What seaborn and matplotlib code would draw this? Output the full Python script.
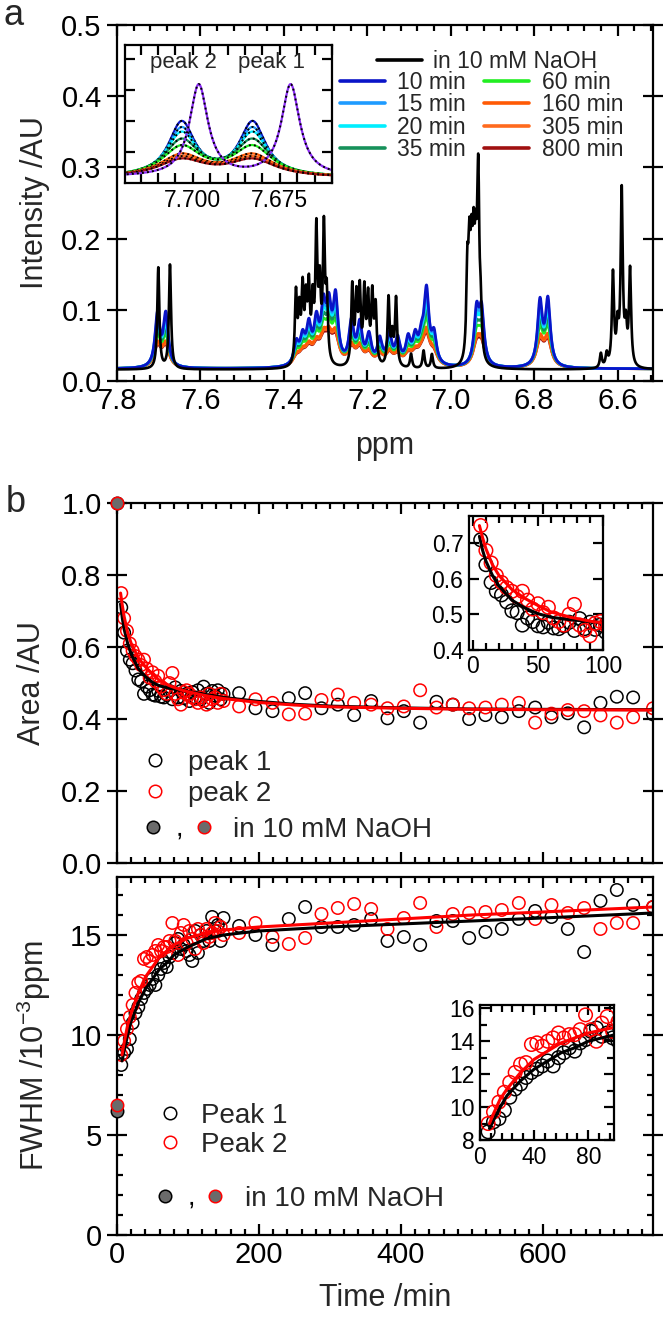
import numpy as np
import matplotlib.pyplot as plt
import seaborn as sns
from matplotlib.ticker import MultipleLocator, FixedLocator, StrMethodFormatter, NullFormatter
from matplotlib.lines import Line2D
from matplotlib.legend_handler import HandlerTuple
from matplotlib.textpath import TextPath
from matplotlib.font_manager import FontProperties
from matplotlib.path import Path

sns.set_theme(style="ticks")
plt.rcParams["font.family"] = ["Liberation Sans", "DejaVu Sans"]
plt.rcParams["mathtext.default"] = "regular"

# ---------------- panel a : 1H spectra ----------------
spec_labels = ["10 min", "15 min", "20 min", "35 min", "60 min", "160 min", "305 min", "800 min"]
spec_colors = ["#0a14c8", "#1e9bff", "#00eeff", "#16915a", "#22ee22", "#ff5a05", "#ff6a1e", "#a01010"]
spec_scale = [1.0, 0.9, 0.8, 0.68, 0.58, 0.45, 0.42, 0.39]            # height relative to 10 min
spec_hw = [0.0046, 0.0050, 0.0054, 0.0061, 0.0068, 0.0076, 0.0078, 0.0082]  # half width /ppm (inset)
main_hw = [0.0070, 0.0074, 0.0078, 0.0084, 0.0090, 0.0098, 0.0100, 0.0104]  # half width /ppm (full range)

# spectrum in 10 mM NaOH (black)
naoh_ppm = [7.701, 7.673,
            7.371, 7.363, 7.355, 7.347, 7.340, 7.331, 7.322, 7.314, 7.304, 7.297,
            7.236, 7.226, 7.218, 7.207, 7.198, 7.188, 7.180, 7.149, 7.140, 7.131,
            7.095, 7.065, 7.045,
            6.960, 6.955, 6.950, 6.945, 6.940, 6.934, 6.928,
            6.640, 6.626, 6.611, 6.600, 6.590, 6.580, 6.570]
naoh_int = [0.142, 0.146,
            0.10, 0.07, 0.10, 0.08, 0.10, 0.08, 0.18, 0.10, 0.185, 0.09,
            0.11, 0.09, 0.10, 0.10, 0.09, 0.095, 0.08, 0.095, 0.04, 0.095,
            0.02, 0.025, 0.02,
            0.12, 0.13, 0.12, 0.13, 0.12, 0.25, 0.06,
            0.02, 0.018, 0.13, 0.05, 0.245, 0.05, 0.135]
naoh_hw = 0.003
naoh_base = 0.016

# spectrum after dilution, 10 min (other times scale from it)
time_ppm = [7.703, 7.683,
            7.370, 7.355, 7.340, 7.322, 7.305, 7.292, 7.276,
            7.238, 7.218, 7.196, 7.170, 7.147, 7.127,
            7.102, 7.085, 7.070, 7.058, 7.040,
            6.938, 6.926,
            6.786, 6.767]
time_int = [0.073, 0.073,
            0.03, 0.035, 0.05, 0.055, 0.072, 0.07, 0.09,
            0.058, 0.055, 0.04, 0.035, 0.042, 0.035,
            0.035, 0.035, 0.03, 0.10, 0.04,
            0.074, 0.074,
            0.089, 0.091]
time_base = 0.017

# inset of panel a (arbitrary units)
inset_pk = [7.7032, 7.6828]
inset_amp = [1.75, 1.55, 1.40, 1.17, 0.96, 0.70, 0.62, 0.55]
inset_base = 0.17
inset_naoh_pk = [7.6983, 7.6719]
inset_naoh_amp = 2.95
inset_naoh_hw = 0.0032
inset_naoh_base = 0.20

# ---------------- panel b : area and FWHM ----------------
time_min = [6, 10, 14, 18, 22, 26, 30, 34, 38, 42, 46, 50, 54, 58, 62, 66, 70, 74, 78, 82,
            86, 90, 94, 98, 102, 106, 110, 114, 118, 122, 126, 130, 134, 138, 142, 146, 150,
            172, 195, 219, 242, 265, 288, 311, 334, 358, 381, 404, 427, 450, 473, 496, 519,
            542, 566, 589, 612, 635, 658, 681, 704, 727, 755]
area_p1 = [0.71, 0.64, 0.59, 0.565, 0.555, 0.535, 0.51, 0.505, 0.47, 0.49, 0.48, 0.468, 0.465,
           0.478, 0.462, 0.46, 0.468, 0.478, 0.455, 0.488, 0.46, 0.478, 0.458, 0.47, 0.45, 0.475,
           0.46, 0.48, 0.455, 0.49, 0.47, 0.445, 0.478, 0.465, 0.48, 0.455, 0.47,
           0.472, 0.43, 0.422, 0.458, 0.472, 0.43, 0.44, 0.411, 0.45, 0.402, 0.422, 0.39, 0.448,
           0.44, 0.40, 0.411, 0.405, 0.422, 0.432, 0.405, 0.416, 0.377, 0.445, 0.462, 0.46, 0.413]
area_p2 = [0.75, 0.68, 0.645, 0.61, 0.59, 0.575, 0.565, 0.55, 0.565, 0.54, 0.515, 0.53, 0.505,
           0.52, 0.49, 0.48, 0.47, 0.5, 0.528, 0.47, 0.455, 0.44, 0.475, 0.48, 0.47, 0.46,
           0.455, 0.445, 0.46, 0.45, 0.44, 0.47, 0.455, 0.46, 0.445, 0.47, 0.45,
           0.435, 0.455, 0.445, 0.413, 0.415, 0.453, 0.468, 0.445, 0.44, 0.43, 0.435, 0.48, 0.432,
           0.44, 0.43, 0.432, 0.44, 0.445, 0.39, 0.415, 0.425, 0.422, 0.41, 0.39, 0.405, 0.43]
fwhm_p1 = [8.5, 9.1, 9.3, 9.8, 10.6, 11.1, 11.4, 11.8, 12.1, 12.3, 12.5, 12.8, 12.5, 13.0,
           13.3, 13.6, 13.4, 13.9, 14.1, 14.6, 14.8, 14.3, 14.5, 14.2, 14.0, 13.7, 15.2, 14.1,
           15.0, 14.7, 15.2, 14.7, 15.9, 15.2, 15.5, 14.7, 15.85,
           15.45, 15.0, 14.5, 15.8, 16.4, 15.4, 15.4, 15.5, 15.8, 14.7, 14.9, 14.5, 15.7, 15.7,
           14.85, 15.15, 15.3, 15.8, 16.2, 15.9, 15.3, 14.15, 16.7, 17.25, 16.5, 16.4]
fwhm_p2 = [9.0, 9.7, 10.3, 10.9, 11.5, 12.1, 12.6, 12.7, 13.8, 13.9, 13.7, 14.0, 14.2, 14.5,
           14.2, 14.4, 14.4, 14.7, 15.6, 14.7, 14.0, 15.1, 15.5, 14.6, 15.2, 14.8, 14.3, 15.3,
           15.0, 14.6, 15.3, 14.9, 15.1, 15.6, 15.2, 15.4, 15.0,
           15.1, 15.6, 14.9, 14.55, 14.85, 16.05, 16.35, 16.55, 16.3, 15.3, 15.85, 16.6, 15.4,
           16.05, 16.1, 16.15, 16.25, 16.6, 15.8, 16.5, 16.1, 16.35, 15.3, 15.6, 15.6, 16.4]

# values in 10 mM NaOH (t = 0)
naoh_area = [1.0, 1.0]
naoh_fwhm = [6.2, 6.5]

# fitted curves
area_fit_t = [5, 7.5, 10, 15, 20, 25, 30, 40, 50, 60, 75, 90, 100, 125, 150, 200, 250, 300, 400, 500, 600, 755]
area_fit_p1 = [0.72, 0.68, 0.65, 0.61, 0.58, 0.56, 0.54, 0.518, 0.502, 0.492, 0.485, 0.48, 0.477,
               0.468, 0.46, 0.449, 0.441, 0.436, 0.431, 0.428, 0.427, 0.426]
area_fit_p2 = [0.75, 0.715, 0.685, 0.64, 0.61, 0.59, 0.57, 0.545, 0.525, 0.507, 0.492, 0.481, 0.476,
               0.465, 0.457, 0.446, 0.439, 0.434, 0.43, 0.427, 0.426, 0.425]
fwhm_fit_t = [7, 10, 15, 20, 30, 40, 50, 60, 70, 80, 100, 125, 150, 200, 300, 400, 500, 600, 755]
fwhm_fit_p1 = [8.7, 9.2, 10.0, 10.7, 11.6, 12.3, 12.8, 13.3, 13.6, 14.0, 14.4, 14.8, 15.0, 15.2,
               15.4, 15.55, 15.7, 15.85, 16.1]
fwhm_fit_p2 = [9.0, 9.6, 10.5, 11.1, 12.1, 12.9, 13.4, 13.9, 14.2, 14.5, 14.85, 15.1, 15.25, 15.4,
               15.6, 15.8, 16.0, 16.15, 16.4]

GRAY = "#6b6b6b"
LAB = 21
INS = 16.5


def lorentz(x, centres, heights, hw, base):
    y = np.full_like(x, base)
    for c, h in zip(centres, heights):
        y += h * hw ** 2 / ((x - c) ** 2 + hw ** 2)
    return y


def frame(ax, size=LAB, maj=8, mnr=4, lw=1.6):
    for s in ax.spines.values():
        s.set_visible(True)
        s.set_linewidth(lw)
        s.set_color("black")
    ax.tick_params(which="both", top=True, right=True, direction="in", width=lw,
                   colors="black", labelsize=size, pad=4)
    ax.tick_params(which="major", length=maj)
    ax.tick_params(which="minor", length=mnr)
    ax.grid(False)


def line(ax, x, y, **kw):
    sns.lineplot(x=x, y=y, ax=ax, estimator=None, sort=False, errorbar=None, **kw)


def hollow(ax, x, y, c, s=80, **kw):
    sns.scatterplot(x=x, y=y, ax=ax, marker="o", s=s, facecolors="none",
                    edgecolor=c, linewidth=1.1, **kw)


# comma glyph as a marker that sits below the row centre
tp = TextPath((0, 0), ",", size=1, prop=FontProperties(family="Liberation Sans"))
cv = tp.vertices.copy()
cv[:, 0] -= (cv[:, 0].min() + cv[:, 0].max()) / 2
cv[:, 1] -= cv[:, 1].max() + 0.2
comma = Path(cv, tp.codes)

fig = plt.figure(figsize=(6.66, 13.17), dpi=100)

# ================= panel a =================
ax = fig.add_axes([0.1757, 0.7107, 0.8048, 0.2703])
ppm = np.linspace(6.5, 7.8, 5201)
for k in range(len(spec_labels) - 1, -1, -1):
    y = lorentz(ppm, time_ppm, [h * spec_scale[k] for h in time_int], main_hw[k], time_base)
    line(ax, ppm, y, color=spec_colors[k], lw=2.0)
line(ax, ppm, lorentz(ppm, naoh_ppm, naoh_int, naoh_hw, naoh_base), color="black", lw=1.9)
ax.set_xlim(7.8, 6.515)
ax.set_ylim(0, 0.5)
frame(ax)
ax.xaxis.set_major_locator(MultipleLocator(0.2))
ax.xaxis.set_minor_locator(MultipleLocator(0.04))
ax.yaxis.set_major_locator(MultipleLocator(0.1))
ax.tick_params(axis="y", which="major", direction="inout", length=14)
ax.set_xlabel("ppm", fontsize=22)
ax.set_ylabel("Intensity /AU", fontsize=22)
ax.xaxis.set_label_coords(0.5, -0.14)
ax.yaxis.set_label_coords(-0.125, 0.5)

leg1 = ax.legend([Line2D([], [], color="black", lw=2.6)], ["in 10 mM NaOH"],
                 loc="upper left", bbox_to_anchor=(0.485, 0.93), frameon=False,
                 fontsize=16.5, handlelength=1.95, handletextpad=0.5, borderpad=0, borderaxespad=0)
ax.add_artist(leg1)
ax.legend([Line2D([], [], color=c, lw=2.6) for c in spec_colors], spec_labels, ncol=2,
          loc="upper left", bbox_to_anchor=(0.416, 0.872), frameon=False, fontsize=16.5,
          handlelength=1.95, handletextpad=0.55, columnspacing=0.8, labelspacing=-0.02,
          borderpad=0, borderaxespad=0)

# inset of panel a
ai = fig.add_axes([0.1877, 0.8610, 0.3108, 0.1048])
xi = np.linspace(7.655, 7.725, 900)
for k in range(len(spec_labels)):
    yi = lorentz(xi, inset_pk, [inset_amp[k]] * 2, spec_hw[k], inset_base)
    line(ai, xi, yi, color=spec_colors[k], lw=1.6)
    line(ai, xi, yi, color="black", lw=1.4, linestyle=(0, (1, 1.6)))
yn = lorentz(xi, inset_naoh_pk, [inset_naoh_amp] * 2, inset_naoh_hw, inset_naoh_base)
line(ai, xi, yn, color="#8b2cf5", lw=1.6)
line(ai, xi, yn, color="black", lw=1.4, linestyle=(0, (1, 1.6)))
ai.set_xlim(7.7195, 7.660)
ai.set_ylim(0, 4.45)
frame(ai, size=INS, maj=7, mnr=7)
ai.xaxis.set_major_locator(FixedLocator([7.700, 7.675]))
ai.xaxis.set_major_formatter(StrMethodFormatter("{x:.3f}"))
ai.xaxis.set_minor_locator(MultipleLocator(0.005))
ai.yaxis.set_major_locator(FixedLocator([1, 2, 3, 4]))
ai.yaxis.set_major_formatter(NullFormatter())
ai.set_xlabel("")
ai.set_ylabel("")
ai.text(0.28, 0.87, "peak 2", transform=ai.transAxes, ha="center", va="center", fontsize=16)
ai.text(0.71, 0.87, "peak 1", transform=ai.transAxes, ha="center", va="center", fontsize=16)

# ================= panel b : area =================
b1 = fig.add_axes([0.1757, 0.3447, 0.8048, 0.2733])
hollow(b1, time_min, area_p1, "black")
hollow(b1, time_min, area_p2, "red")
line(b1, area_fit_t, area_fit_p1, color="black", lw=2.2)
line(b1, area_fit_t, area_fit_p2, color="red", lw=2.2)
sns.scatterplot(x=[0], y=naoh_area[:1], ax=b1, s=80, color=GRAY, edgecolor="black", linewidth=1.1, clip_on=False, zorder=5)
sns.scatterplot(x=[0], y=naoh_area[1:], ax=b1, s=80, color=GRAY, edgecolor="red", linewidth=1.1, clip_on=False, zorder=6)
b1.set_xlim(0, 755)
b1.set_ylim(0, 1.0)
frame(b1)
b1.xaxis.set_major_locator(MultipleLocator(200))
b1.xaxis.set_minor_locator(MultipleLocator(20))
b1.xaxis.set_major_formatter(NullFormatter())
b1.yaxis.set_major_locator(MultipleLocator(0.2))
b1.yaxis.set_major_formatter(StrMethodFormatter("{x:.1f}"))
b1.tick_params(axis="y", which="major", direction="inout", length=14)
b1.set_xlabel("")
b1.set_ylabel("Area /AU", fontsize=22)
b1.yaxis.set_label_coords(-0.13, 0.5)

op = dict(marker="o", ls="", mfc="none", ms=9, mew=1.1)
lg = b1.legend([Line2D([], [], mec="black", **op), Line2D([], [], mec="red", **op)],
               ["peak 1", "peak 2"], loc="upper left", bbox_to_anchor=(0.045, 0.315),
               frameon=False, fontsize=20, handlelength=1.0, handletextpad=0.7,
               labelspacing=0.2, borderpad=0, borderaxespad=0)
b1.add_artist(lg)
nh = (Line2D([], [], marker="o", ls="", mfc=GRAY, mec="black", ms=9, mew=1.1),
      Line2D([], [], marker=comma, ls="", mfc="black", mec="black", ms=17, mew=0),
      Line2D([], [], marker="o", ls="", mfc=GRAY, mec="red", ms=9, mew=1.1))
b1.legend([nh], ["in 10 mM NaOH"], handler_map={tuple: HandlerTuple(ndivide=None, pad=0)},
          loc="upper left", bbox_to_anchor=(0.043, 0.128), frameon=False, fontsize=20,
          handlelength=2.75, handletextpad=0.6, borderpad=0, borderaxespad=0)

b1i = fig.add_axes([0.7042, 0.5065, 0.2012, 0.1017])
hollow(b1i, time_min, area_p1, "black", s=95)
hollow(b1i, time_min, area_p2, "red", s=95)
line(b1i, area_fit_t, area_fit_p1, color="black", lw=2.2)
line(b1i, area_fit_t, area_fit_p2, color="red", lw=2.2)
b1i.set_xlim(-3, 100)
b1i.set_ylim(0.4, 0.777)
frame(b1i, size=INS, maj=7, mnr=5)
b1i.xaxis.set_major_locator(FixedLocator([0, 50, 100]))
b1i.xaxis.set_minor_locator(MultipleLocator(10))
b1i.yaxis.set_major_locator(MultipleLocator(0.1))
b1i.yaxis.set_major_formatter(StrMethodFormatter("{x:.1f}"))
b1i.set_xlabel("")
b1i.set_ylabel("")

# ================= panel b : FWHM =================
b2 = fig.add_axes([0.1757, 0.0623, 0.8048, 0.2718])
hollow(b2, time_min, fwhm_p1, "black")
hollow(b2, time_min, fwhm_p2, "red")
line(b2, fwhm_fit_t, fwhm_fit_p1, color="black", lw=2.2)
line(b2, fwhm_fit_t, fwhm_fit_p2, color="red", lw=2.2)
sns.scatterplot(x=[0], y=naoh_fwhm[:1], ax=b2, s=80, color=GRAY, edgecolor="black", linewidth=1.1, clip_on=False, zorder=5)
sns.scatterplot(x=[0], y=naoh_fwhm[1:], ax=b2, s=80, color=GRAY, edgecolor="red", linewidth=1.1, clip_on=False, zorder=6)
b2.set_xlim(0, 755)
b2.set_ylim(0, 17.9)
frame(b2)
b2.xaxis.set_major_locator(MultipleLocator(200))
b2.xaxis.set_minor_locator(MultipleLocator(20))
b2.yaxis.set_major_locator(MultipleLocator(5))
b2.yaxis.set_minor_locator(MultipleLocator(1))
b2.tick_params(axis="y", which="major", direction="inout", length=14)
b2.set_xlabel("Time /min", fontsize=22)
b2.set_ylabel("FWHM /10$^{-3}$ppm", fontsize=22)
b2.xaxis.set_label_coords(0.5, -0.135)
b2.yaxis.set_label_coords(-0.12, 0.5)

lg = b2.legend([Line2D([], [], mec="black", **op), Line2D([], [], mec="red", **op)],
               ["Peak 1", "Peak 2"], loc="upper left", bbox_to_anchor=(0.073, 0.37),
               frameon=False, fontsize=20, handlelength=1.0, handletextpad=0.6,
               labelspacing=0.12, borderpad=0, borderaxespad=0)
b2.add_artist(lg)
b2.legend([nh], ["in 10 mM NaOH"], handler_map={tuple: HandlerTuple(ndivide=None, pad=0)},
          loc="upper left", bbox_to_anchor=(0.066, 0.138), frameon=False, fontsize=20,
          handlelength=2.7, handletextpad=0.63, borderpad=0, borderaxespad=0)

b2i = fig.add_axes([0.7207, 0.1344, 0.2012, 0.1025])
hollow(b2i, time_min, fwhm_p1, "black", s=95)
hollow(b2i, time_min, fwhm_p2, "red", s=95)
line(b2i, fwhm_fit_t, fwhm_fit_p1, color="black", lw=2.2)
line(b2i, fwhm_fit_t, fwhm_fit_p2, color="red", lw=2.2)
b2i.set_xlim(0, 99)
b2i.set_ylim(8, 16.2)
frame(b2i, size=INS, maj=7, mnr=5)
b2i.xaxis.set_major_locator(FixedLocator([0, 40, 80]))
b2i.xaxis.set_minor_locator(MultipleLocator(8))
b2i.yaxis.set_major_locator(MultipleLocator(2))
b2i.yaxis.set_minor_locator(MultipleLocator(1))
b2i.set_xlabel("")
b2i.set_ylabel("")

fig.text(0.006, 1 - 25 / 1317, "a", fontsize=26, va="baseline")
fig.text(0.008, 1 - 512 / 1317, "b", fontsize=26, va="baseline")

fig.savefig("out.png", dpi=100)
